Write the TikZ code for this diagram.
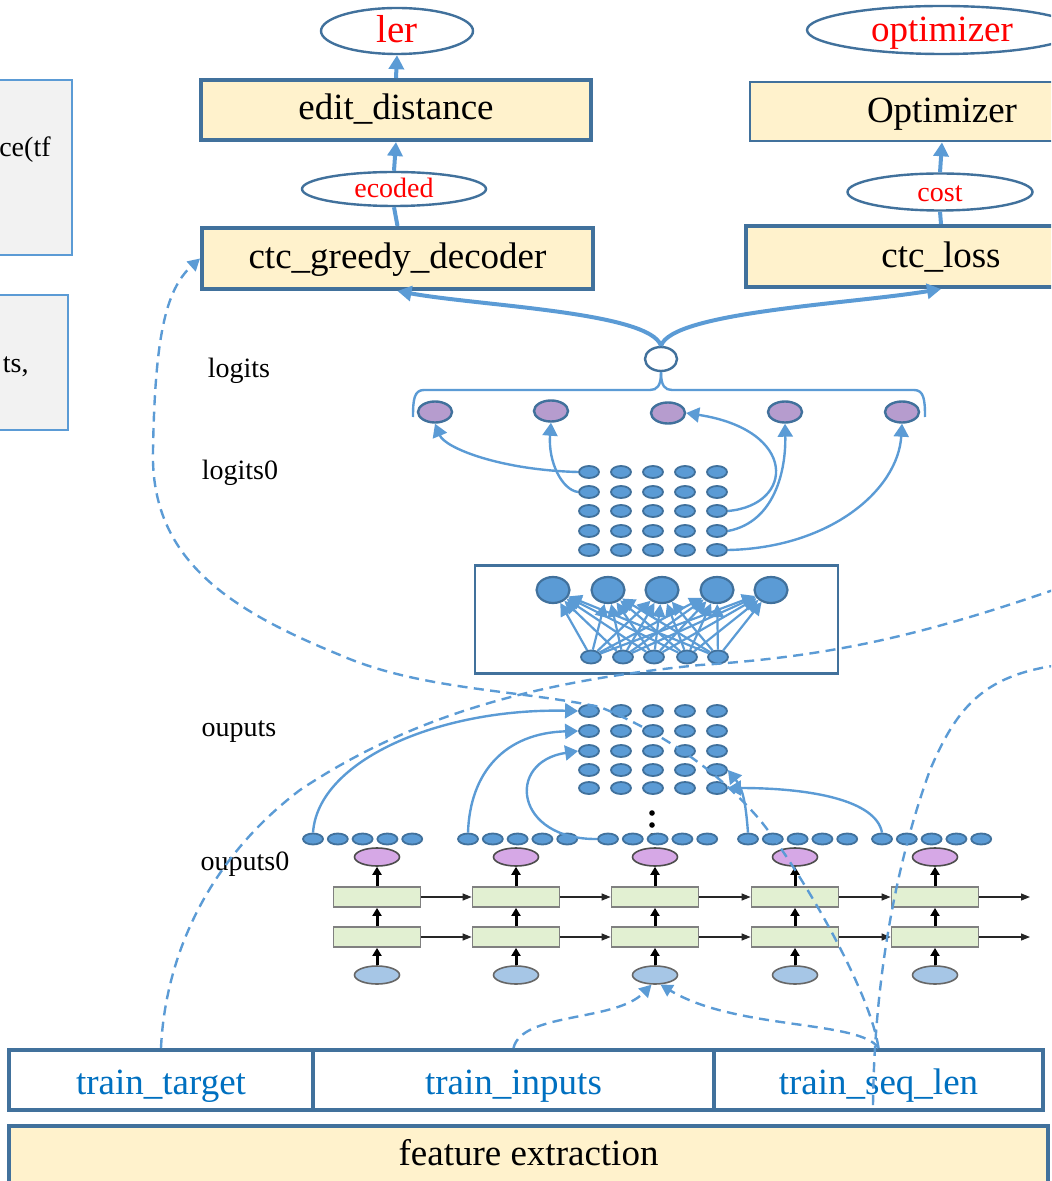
\documentclass[tikz,border=0pt]{standalone}
\usepackage{fontspec}
\setmainfont{Liberation Serif}
\usetikzlibrary{shapes.geometric,arrows.meta}
\definecolor{bd}{HTML}{41719C}
\definecolor{ab}{HTML}{5B9BD5}
\definecolor{yl}{HTML}{FFF2CC}
\definecolor{gr}{HTML}{F2F2F2}
\definecolor{pu}{RGB}{182,156,206}
\definecolor{lpu}{RGB}{214,168,230}
\definecolor{lbl}{RGB}{166,198,230}
\definecolor{lgr}{RGB}{226,240,210}
\definecolor{tb}{HTML}{0070C0}
\begin{document}
\begin{tikzpicture}[x=0.5pt,y=-0.5pt,
 bigf/.style={font=\fontsize{18.5}{22}\selectfont},
 midf/.style={font=\fontsize{14}{17}\selectfont},
 ybox/.style={draw=bd,line width=2pt,fill=yl,inner sep=0pt,bigf,text height=13pt,text depth=3pt},
 wbox/.style={draw=bd,line width=2pt,fill=white,inner sep=0pt,bigf,text=tb,text height=16pt,text depth=2pt},
 gbox/.style={draw=ab,line width=0.9pt,fill=gr,inner sep=0pt},
 oval/.style={ellipse,draw=bd,line width=1.2pt,fill=white,inner sep=0pt,text=red},
 tarr/.style={draw=ab,line width=2pt,-{Triangle[length=7pt,width=7.5pt]}},
 tline/.style={draw=ab,line width=2pt},
 narr/.style={draw=ab,line width=1.2pt,-{Triangle[length=6.5pt,width=7.5pt]}},
 farr/.style={draw=ab,line width=1.1pt,-{Triangle[length=6.5pt,width=6.5pt]}},
 dsh/.style={draw=ab,line width=1.2pt,dash pattern=on 5pt off 3.2pt},
 dsharr/.style={dsh,-{Triangle[length=6pt,width=6.5pt]}},
 gdot/.style={ellipse,draw=bd,fill=ab,line width=0.9pt,minimum width=10pt,minimum height=6pt,inner sep=0pt},
 pdot/.style={ellipse,draw=bd,fill=ab,line width=0.9pt,minimum width=10pt,minimum height=5.5pt,inner sep=0pt},
 lgo/.style={ellipse,draw=bd,fill=pu,line width=1.2pt,minimum width=17pt,minimum height=10.5pt,inner sep=0pt},
 bigc/.style={ellipse,draw=bd,fill=ab,line width=1.1pt,minimum width=16.5pt,minimum height=13pt,inner sep=0pt},
 lout/.style={ellipse,draw=black!70,fill=lpu,line width=0.8pt,minimum width=22.5pt,minimum height=9pt,inner sep=0pt},
 lin/.style={ellipse,draw=black!60,fill=lbl,line width=0.8pt,minimum width=22.5pt,minimum height=9pt,inner sep=0pt},
 lcell/.style={rectangle,draw=black!50,fill=lgr,line width=0.9pt,minimum width=43.5pt,minimum height=10pt,inner sep=0pt},
 karr/.style={draw=black,line width=1.5pt,-{Triangle[length=4pt,width=4.5pt]}},
 harr/.style={draw=black!85,line width=0.6pt,-{Triangle[length=4.5pt,width=3.5pt]}},
 brc/.style={draw=ab,line width=1.2pt}
]
\useasboundingbox (0,0) rectangle (1051,1181);
\clip (0,0) rectangle (1051,1181);

% left clipped boxes
\node[gbox,minimum width=61pt,minimum height=87.5pt] (g1) at (11,167.5) {};
\node[midf,anchor=east,inner sep=0pt] (g1t) at (51,150) {ce(tf};
\node[gbox,minimum width=59pt,minimum height=67.5pt] (g2) at (9,362.5) {};
\node[midf,anchor=east,inner sep=0pt] (g2t) at (29,367) {ts,};

% top left column
\node[oval,minimum width=76pt,minimum height=23pt,font=\fontsize{19.5}{22}\selectfont,text height=13pt,text depth=1pt] (ler) at (397,31) {ler};
\node[ybox,minimum width=195pt,minimum height=30pt] (ed) at (396,110) {edit\_distance};
\node[oval,minimum width=92pt,minimum height=17pt,midf,text height=10pt,text depth=1pt] (ec) at (394,189) {ecoded};
\node[ybox,minimum width=195.5pt,minimum height=30.5pt] (cg) at (397.5,258.5) {ctc\_greedy\_decoder};
\draw[tarr] (ed.north) -- (ler.south);
\draw[tarr] (ec.north) -- (ed.south);
\draw[tline] (cg.north) -- (ec.south);

% top right column
\node[oval,minimum width=135pt,minimum height=24pt,font=\fontsize{18.5}{22}\selectfont,text height=13pt,text depth=1pt] (op) at (942,30) {optimizer};
\node[ybox,line width=1.3pt,minimum width=192pt,minimum height=29.5pt,text height=14pt,text depth=2.5pt] (opt) at (942,111.5) {Optimizer};
\node[oval,minimum width=92.5pt,minimum height=18.5pt,midf,text height=11pt,text depth=1pt] (co) at (940,192) {cost};
\node[ybox,minimum width=195pt,minimum height=30.5pt,text height=14pt,text depth=3pt] (cl) at (941,256.5) {ctc\_loss};
\draw[tarr] (co.north) -- (opt.south);
\draw[tline] (cl.north) -- (co.south);

% junction circle and brace
\node[ellipse,draw=bd,fill=white,line width=1.2pt,minimum width=16pt,minimum height=12pt,inner sep=0pt] (c0) at (661,359) {};
\draw[tarr] (c0.north) .. controls (650,312) and (480,306) .. (cg.south);
\draw[tarr] (c0.north) .. controls (672,312) and (850,304) .. (cl.south);
\draw[brc] (413,417) .. controls (413,400) and (414,390) .. (424,390) -- (650,390) .. controls (657,390) and (661,386) .. (c0.south);
\draw[brc] (925,417) .. controls (925,400) and (924,390) .. (914,390) -- (672,390) .. controls (665,390) and (661,386) .. (c0.south);

% logits
\foreach \i/\x/\y in {1/435/412,2/551/411,3/668/413,4/785/412,5/902/412}{
  \node[lgo] (lg\i) at (\x,\y) {};
}
% logits0 grid
\foreach \r/\y in {1/472,2/492,3/511,4/531,5/550}{
  \foreach \c/\x in {1/589,2/621,3/653,4/685,5/717}{
    \node[gdot] (a\r\c) at (\x,\y) {};
  }
}
\draw[narr] (a11.west) .. controls (500,470) and (445,448) .. (lg1.south);
\draw[narr] (a21.west) .. controls (562,490) and (548,462) .. (lg2.south);
\draw[narr] (a35.east) .. controls (795,505) and (798,430) .. (lg3.east);
\draw[narr] (a45.east) .. controls (775,522) and (786,470) .. (lg4.south);
\draw[narr] (a55.east) .. controls (830,548) and (898,490) .. (lg5.south);

% fully connected block
\node[draw=bd,line width=1.3pt,minimum width=181.5pt,minimum height=54pt,inner sep=0pt] (fc) at (656.5,619.5) {};
\foreach \i/\x in {1/553,2/608,3/662,4/717,5/771}{
  \node[bigc] (b\i) at (\x,590) {};
}
\foreach \i/\x in {1/591,2/623,3/654,4/687,5/718}{
  \node[gdot,minimum height=6.5pt] (s\i) at (\x,657) {};
}
\foreach \i in {1,...,5}{
  \foreach \j in {1,...,5}{
    \draw[farr] (s\i) -- (b\j);
  }
}

% outputs grid
\foreach \r/\y in {1/711,2/731,3/751,4/770,5/788}{
  \foreach \c/\x in {1/589,2/621,3/653,4/685,5/717}{
    \node[gdot] (o\r\c) at (\x,\y) {};
  }
}
\fill (652,813) circle (1.4pt);
\fill (652,825) circle (1.4pt);
\fill (652,836) circle (1.4pt);

% ouputs0 rows
\foreach \g/\xs in {1/313,2/468,3/608,4/748,5/882}{
  \foreach \k in {0,...,4}{
    \node[pdot] (p\g\k) at ({\xs+24.8*\k},839) {};
  }
}
\draw[narr] (p10.north) .. controls (318,760) and (440,708) .. (o11.west);
\draw[narr] (p20.north) .. controls (470,772) and (505,733) .. (o21.west);
\draw[narr] (p30.west) .. controls (515,840) and (505,762) .. (o31.west);
\draw[narr] (p40.north) .. controls (746,808) and (744,790) .. (o45.east);
\draw[narr] (p50.north) .. controls (876,800) and (810,788) .. (o55.east);

% LSTM strip
\foreach \i/\x in {1/377,2/516,3/655,4/795,5/935}{
  \node[lout] (lo\i) at (\x,857) {};
  \node[lcell] (lt\i) at (\x,897) {};
  \node[lcell] (lb\i) at (\x,937) {};
  \node[lin] (li\i) at (\x,975) {};
  \draw[karr] (lt\i) -- (lo\i);
  \draw[karr] (lb\i) -- (lt\i);
  \draw[karr] (li\i) -- (lb\i);
}
\foreach \i/\j in {1/2,2/3,3/4,4/5}{
  \draw[harr] (lt\i) -- (lt\j);
  \draw[harr] (lb\i) -- (lb\j);
}
\coordinate (tend) at (1030,897);
\coordinate (bend) at (1030,937);
\draw[harr] (lt5) -- (tend);
\draw[harr] (lb5) -- (bend);

% labels
\node[midf] (l1) at (239,371) {logits};
\node[midf] (l2) at (240,473) {logits0};
\node[midf] (l3) at (239,732) {ouputs};
\node[midf] (l4) at (245,864) {ouputs0};

% bottom boxes
\node[wbox,minimum width=152pt,minimum height=30pt] (tt) at (161,1080) {train\_target};
\node[wbox,minimum width=200.5pt,minimum height=30pt] (ti) at (513.5,1080) {train\_inputs};
\node[wbox,minimum width=164.5pt,minimum height=30pt] (ts) at (878.5,1080) {train\_seq\_len};
\node[ybox,minimum width=519.5pt,minimum height=29pt] (fe) at (528.5,1155) {feature extraction};

% dashed connectors
\draw[dsharr] (ts.north) .. controls (870,990) and (800,870) .. (760,820)
  .. controls (730,785) and (680,740) .. (600,707)
  .. controls (520,690) and (420,690) .. (340,655)
  .. controls (230,610) and (150,560) .. (153,450)
  .. controls (155,340) and (165,290) .. (cg.west);
\coordinate (bs) at (873,1105);
\coordinate (be) at (1100,662);
\draw[dsh] (bs) .. controls (874,1000) and (890,880) .. (930,770)
  .. controls (960,700) and (990,665) .. (be);
\coordinate (ce) at (1150,555);
\draw[dsh] (tt.north) .. controls (165,960) and (205,862) .. (300,790)
  .. controls (420,710) and (550,680) .. (700,665)
  .. controls (850,655) and (950,630) .. (ce);
\draw[dsharr] (ti.north) .. controls (522,1012) and (615,1022) .. (li3.-110);
\draw[dsharr] (ts.north) .. controls (860,1020) and (735,1030) .. (li3.-60);
\end{tikzpicture}
\end{document}
